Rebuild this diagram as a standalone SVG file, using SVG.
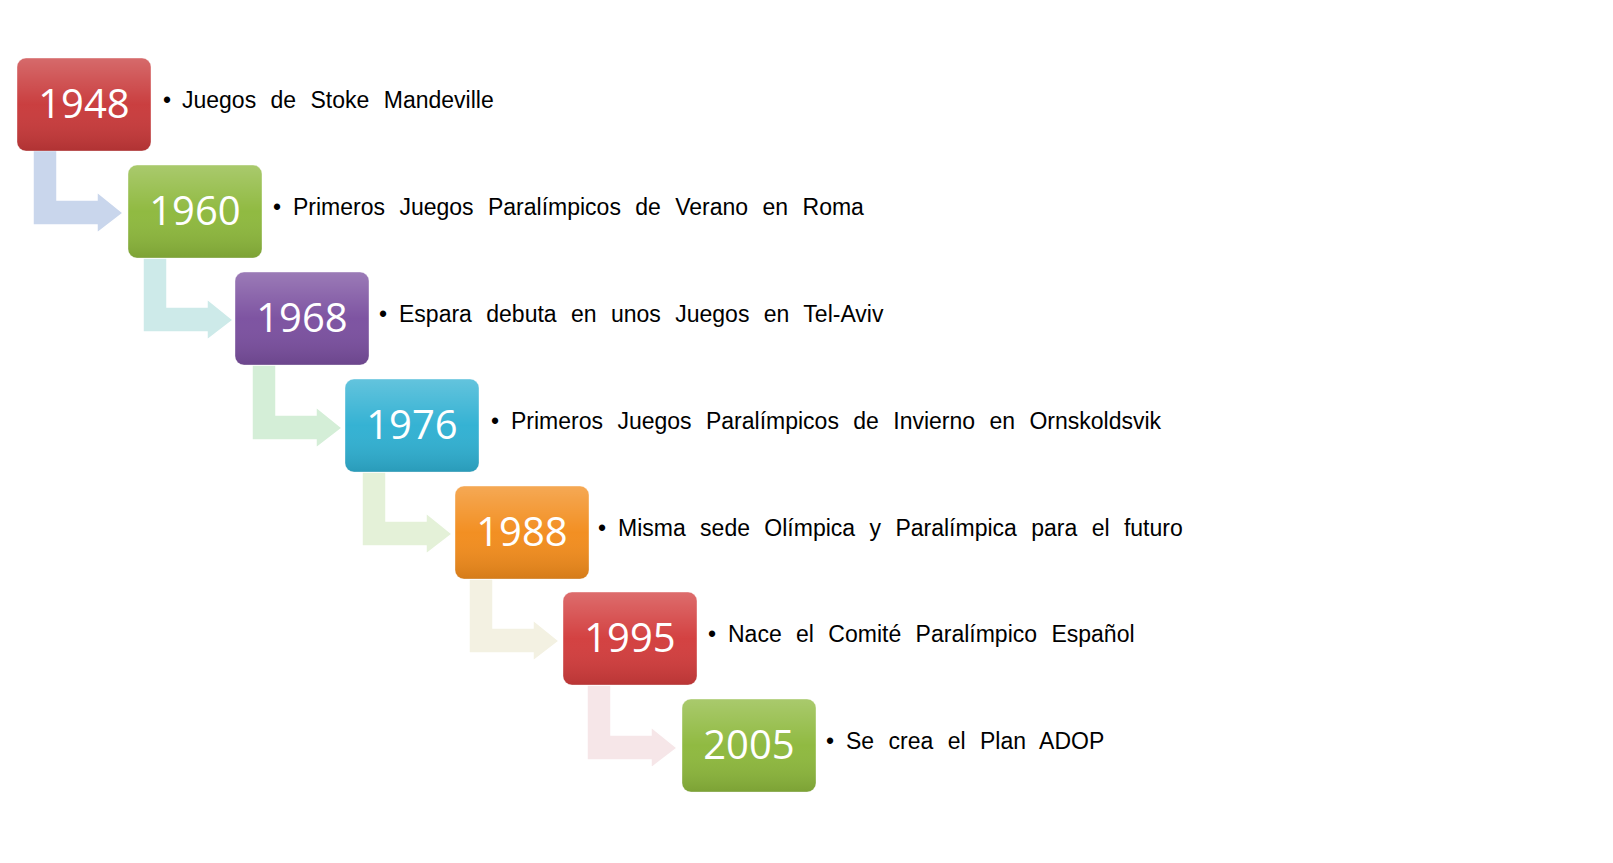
<svg xmlns="http://www.w3.org/2000/svg" width="1613" height="863" viewBox="0 0 1613 863">
<defs>
<linearGradient id="g" x1="0" y1="0" x2="0" y2="1"><stop offset="0" stop-color="#fff" stop-opacity="0.25"/><stop offset="0.5" stop-color="#fff" stop-opacity="0.03"/><stop offset="1" stop-color="#000" stop-opacity="0.12"/></linearGradient>
</defs>
<style>
.box{stroke:#fff;stroke-opacity:0.4;stroke-width:1}
.yr{font-family:"Open Sans","Liberation Sans",sans-serif;font-size:40px;fill:#fff;text-anchor:middle}
.t{font-family:"Liberation Sans",Arial,sans-serif;font-size:23px;fill:#000;word-spacing:8px}
.a{stroke:#fff;stroke-width:1.5}
</style>
<rect width="1613" height="863" fill="#fff"/>
<g id="connectors">
<path class="a" fill="#c9d6ec" d="M33,150 h24 v50 h40 v-8 l26,21 l-26,20 v-8 h-64 z"/>
<path class="a" fill="#cdeae9" d="M143,258 h24 v49 h40 v-8 l26,21 l-26,20 v-8 h-64 z"/>
<path class="a" fill="#d4eed7" d="M252,365 h24 v50 h40 v-8 l26,21 l-26,20 v-8 h-64 z"/>
<path class="a" fill="#e4f1d8" d="M362,472 h24 v49 h40 v-8 l26,21 l-26,20 v-8 h-64 z"/>
<path class="a" fill="#f3f1e2" d="M469,579 h24 v49 h40 v-8 l26,21 l-26,20 v-8 h-64 z"/>
<path class="a" fill="#f6e6e8" d="M587,685 h24 v50 h40 v-8 l26,21 l-26,20 v-8 h-64 z"/>
</g>
<g id="n1948"><rect class="box" x="17" y="58" width="134" height="93" rx="9" fill="#c8393a"/><rect x="17" y="58" width="134" height="93" rx="9" fill="url(#g)"/><text class="yr" x="84" y="118">1948</text><text class="t" x="163" y="108">•</text><text class="t" x="182" y="108">Juegos de Stoke Mandeville</text></g>
<g id="n1960"><rect class="box" x="128" y="165" width="134" height="93" rx="9" fill="#8db83c"/><rect x="128" y="165" width="134" height="93" rx="9" fill="url(#g)"/><text class="yr" x="195" y="225">1960</text><text class="t" x="273" y="215">•</text><text class="t" x="293" y="215">Primeros Juegos Paralímpicos de Verano en Roma</text></g>
<g id="n1968"><rect class="box" x="235" y="272" width="134" height="93" rx="9" fill="#7a4f9f"/><rect x="235" y="272" width="134" height="93" rx="9" fill="url(#g)"/><text class="yr" x="302" y="332">1968</text><text class="t" x="379" y="322">•</text><text class="t" x="399" y="322">Espara debuta en unos Juegos en Tel-Aviv</text></g>
<g id="n1976"><rect class="box" x="345" y="379" width="134" height="93" rx="9" fill="#2fb0d2"/><rect x="345" y="379" width="134" height="93" rx="9" fill="url(#g)"/><text class="yr" x="412" y="439">1976</text><text class="t" x="491" y="429">•</text><text class="t" x="511" y="429">Primeros Juegos Paralímpicos de Invierno en Ornskoldsvik</text></g>
<g id="n1988"><rect class="box" x="455" y="486" width="134" height="93" rx="9" fill="#f28c1c"/><rect x="455" y="486" width="134" height="93" rx="9" fill="url(#g)"/><text class="yr" x="522" y="546">1988</text><text class="t" x="598" y="536">•</text><text class="t" x="618" y="536">Misma sede Olímpica y Paralímpica para el futuro</text></g>
<g id="n1995"><rect class="box" x="563" y="592" width="134" height="93" rx="9" fill="#d23c3c"/><rect x="563" y="592" width="134" height="93" rx="9" fill="url(#g)"/><text class="yr" x="630" y="652">1995</text><text class="t" x="708" y="642">•</text><text class="t" x="728" y="642">Nace el Comité Paralímpico Español</text></g>
<g id="n2005"><rect class="box" x="682" y="699" width="134" height="93" rx="9" fill="#8db83c"/><rect x="682" y="699" width="134" height="93" rx="9" fill="url(#g)"/><text class="yr" x="749" y="759">2005</text><text class="t" x="826" y="749">•</text><text class="t" x="846" y="749">Se crea el Plan ADOP</text></g>
</svg>
